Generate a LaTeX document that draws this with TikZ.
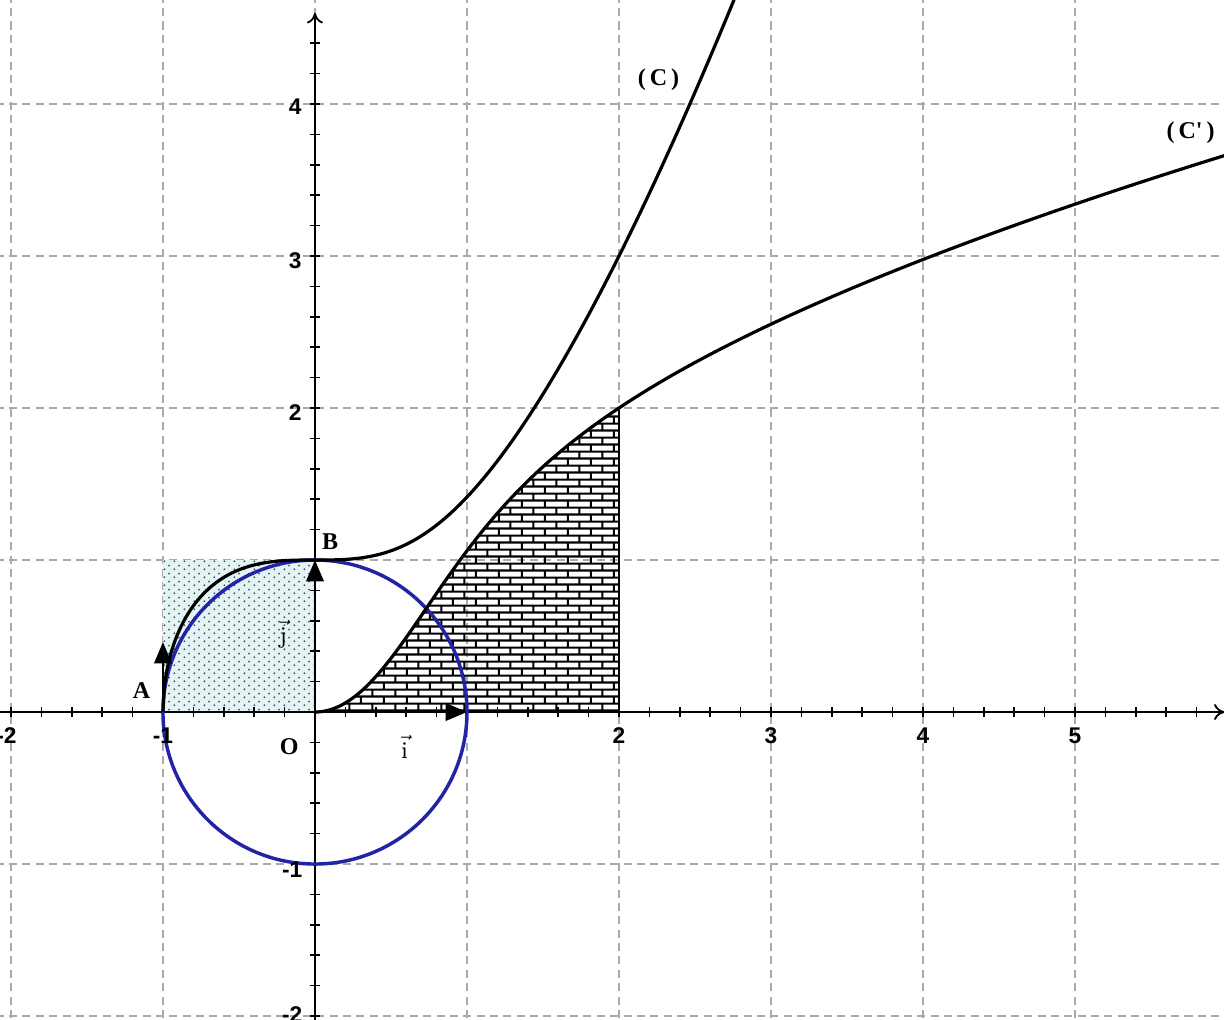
\documentclass[tikz,border=0pt]{standalone}
\usepackage{fontspec}
\newfontfamily\numfont{Liberation Sans}
\newfontfamily\lblfont{Liberation Serif}
\usetikzlibrary{arrows.meta,patterns.meta}
\pgfdeclarepattern{
  name=mybricks,
  type=uncolored,
  bottom left={\pgfpoint{0pt}{0pt}},
  top right={\pgfpoint{8.6pt}{5.2pt}},
  tile size={\pgfpoint{8.6pt}{5.2pt}},
  code={
    \pgfsetlinewidth{0.8pt}
    \pgfpathmoveto{\pgfpoint{0pt}{1.3pt}}\pgfpathlineto{\pgfpoint{8.6pt}{1.3pt}}
    \pgfpathmoveto{\pgfpoint{0pt}{3.9pt}}\pgfpathlineto{\pgfpoint{8.6pt}{3.9pt}}
    \pgfpathmoveto{\pgfpoint{2pt}{1.3pt}}\pgfpathlineto{\pgfpoint{2pt}{3.9pt}}
    \pgfpathmoveto{\pgfpoint{6.3pt}{3.9pt}}\pgfpathlineto{\pgfpoint{6.3pt}{5.2pt}}
    \pgfpathmoveto{\pgfpoint{6.3pt}{0pt}}\pgfpathlineto{\pgfpoint{6.3pt}{1.3pt}}
    \pgfusepath{stroke}
  }
}
\pgfdeclarepattern{
  name=mydots,
  type=uncolored,
  bottom left={\pgfpoint{0pt}{0pt}},
  top right={\pgfpoint{3.8pt}{3pt}},
  tile size={\pgfpoint{3.8pt}{3pt}},
  code={
    \pgfpathcircle{\pgfpoint{0.95pt}{0.75pt}}{0.42pt}
    \pgfpathcircle{\pgfpoint{2.85pt}{2.25pt}}{0.42pt}
    \pgfusepath{fill}
  }
}
\definecolor{circblue}{RGB}{35,35,165}
\definecolor{gridgray}{RGB}{170,170,170}
\definecolor{dotbg}{RGB}{228,244,244}
\begin{document}
\begin{tikzpicture}[x=2cm,y=2cm,
  gridline/.style={gridgray, line width=0.5pt, dash pattern=on 3pt off 2pt},
  axisline/.style={line width=0.7pt, -{To[length=4pt,width=6pt]}},
  tickmark/.style={line width=0.6pt},
  curve/.style={line width=1.2pt, line join=round},
  vecarrow/.style={line width=1pt, -{Triangle[length=8pt,width=6.5pt]}},
  numlbl/.style={font=\numfont\bfseries\fontsize{8.5}{10}\selectfont, inner sep=0pt},
  ptlbl/.style={font=\lblfont\bfseries\fontsize{9}{10}\selectfont, inner sep=0pt},
  crvlbl/.style={font=\lblfont\bfseries\fontsize{9}{10}\selectfont, inner sep=0pt},
]
\useasboundingbox (-2.072,-2.020) rectangle (5.980,4.684);
\clip (-2.072,-2.020) rectangle (5.980,4.684);
% grid
\foreach \x in {-2,...,5} \draw[gridline] (\x,-2.1) -- (\x,4.7);
\foreach \y in {-2,...,4} \draw[gridline] (-2.1,\y) -- (6.1,\y);
% dotted square
\fill[dotbg] (-1,0) rectangle (0,1);
\fill[pattern=mydots, pattern color=black!70] (-1,0) rectangle (0,1);
% brick region under (C')
\fill[pattern=mybricks, pattern color=black] (0,0) -- plot[domain=0:2, samples=120] (\x,{3*\x*\x/(2*sqrt(\x*\x*\x+1))}) -- (2,0) -- cycle;
\draw[line width=0.8pt] (2,0) -- (2,2);
% axes
\draw[axisline] (-2.1,0) -- (5.985,0);
\draw[axisline] (0,-2.1) -- (0,4.6);
\foreach \k in {-10,...,29} \draw[tickmark] (\k/5,-0.035) -- (\k/5,0.035);
\foreach \k in {-10,...,22} \draw[tickmark] (-0.035,\k/5) -- (0.035,\k/5);
% points
\coordinate (O) at (0,0);
\coordinate (I) at (1,0);
\coordinate (J) at (0,1);
\coordinate (A) at (-1,0);
\coordinate (At) at (-1,0.46);
% circle
\draw[circblue, line width=1.3pt] (O) circle[radius=2cm];
% curves
\draw[curve] plot[domain=-1:2.8, samples=500] (\x,{sqrt(max(\x*\x*\x+1,0))});
\draw[curve] plot[domain=0:6, samples=300] (\x,{3*\x*\x/(2*sqrt(\x*\x*\x+1))});
% vectors
\draw[vecarrow] (O) -- (I);
\draw[vecarrow] (O) -- (J);
\draw[vecarrow] (A) -- (At);
% axis numbers
\node[numlbl] (xm2) at (-2.03,-0.155) {-2};
\node[numlbl] (xm1) at (-1.0,-0.155) {-1};
\node[numlbl] (x2) at (2,-0.155) {2};
\node[numlbl] (x3) at (3,-0.155) {3};
\node[numlbl] (x4) at (4,-0.155) {4};
\node[numlbl] (x5) at (5,-0.155) {5};
\node[numlbl] (y4) at (-0.13,3.98) {4};
\node[numlbl] (y3) at (-0.13,2.97) {3};
\node[numlbl] (y2) at (-0.13,1.97) {2};
\node[numlbl] (ym1) at (-0.15,-1.04) {-1};
\node[numlbl] (ym2) at (-0.15,-1.99) {-2};
% point labels
\node[ptlbl] (lO) at (-0.17,-0.23) {O};
\node[ptlbl] (lA) at (-1.14,0.14) {A};
\node[ptlbl] (lB) at (0.10,1.12) {B};
\node[inner sep=0pt, font=\fontsize{9}{10}\selectfont] (lj) at (-0.21,0.51) {$\vec{\mathrm{j}}$};
\node[inner sep=0pt, font=\fontsize{9}{10}\selectfont] (li) at (0.59,-0.23) {$\vec{\mathrm{i}}$};
\node[crvlbl] (lC) at (2.26,4.16) {(\kern1.5pt C\kern1.5pt)};
\node[crvlbl] (lCp) at (5.76,3.81) {(\kern1.5pt C'\kern1.5pt)};
\end{tikzpicture}
\end{document}
